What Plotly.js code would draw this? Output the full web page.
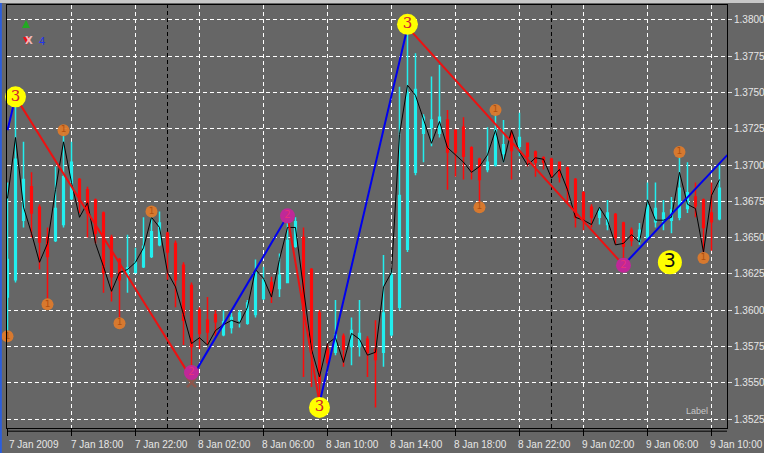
<!DOCTYPE html>
<html>
<head>
<meta charset="utf-8">
<script src="https://cdn.plot.ly/plotly-3.0.1.min.js"></script>
<style>html,body{margin:0;padding:0;background:#666666;}#chart{width:764px;height:453px;}</style>
</head>
<body>
<div id="chart"></div>
<script>
// 30-minute bars, 7 Jan 2009 14:00 -> 9 Jan 2009 10:30 (bar index 0..89)
const barIndex = Array.from({length: 90}, (_, i) => i);
const open  = [1.3609,1.3621,1.3662,1.3685,1.3671,1.3650,1.3648,1.3659,1.3677,1.3690,
               1.3683,1.3676,1.3667,1.3650,1.3635,1.3624,1.3626,1.3630,1.3637,1.3645,
               1.3653,1.3646,1.3631,1.3617,1.3600,1.3593,1.3597,1.3583,1.3588,1.3593,
               1.3591,1.3597,1.3608,1.3619,1.3615,1.3619,1.3644,1.3650,1.3628,1.3598,
               1.3573,1.3571,1.3582,1.3575,1.3575,1.3580,1.3573,1.3571,1.3583,1.3602,
               1.3642,1.3695,1.3722,1.3726,1.3722,1.3731,1.3724,1.3726,1.3712,1.3704,
               1.3697,1.3700,1.3708,1.3722,1.3713,1.3715,1.3709,1.3705,1.3704,1.3702,
               1.3698,1.3690,1.3681,1.3671,1.3664,1.3659,1.3666,1.3660,1.3655,1.3648,
               1.3650,1.3661,1.3661,1.3662,1.3664,1.3670,1.3678,1.3676,1.3667,1.3663];
const high  = [1.3688,1.3747,1.3716,1.3695,1.3673,1.3657,1.3699,1.3724,1.3716,1.3691,
               1.3685,1.3677,1.3668,1.3652,1.3636,1.3652,1.3643,1.3664,1.3668,1.3668,
               1.3654,1.3648,1.3633,1.3619,1.3602,1.3609,1.3600,1.3600,1.3598,1.3600,
               1.3607,1.3635,1.3630,1.3623,1.3639,1.3665,1.3664,1.3657,1.3629,1.3600,
               1.3577,1.3607,1.3584,1.3595,1.3607,1.3582,1.3593,1.3638,1.3628,1.3754,
               1.3795,1.3777,1.3735,1.3761,1.3769,1.3738,1.3724,1.3733,1.3713,1.3705,
               1.3726,1.3738,1.3731,1.3724,1.3736,1.3715,1.3710,1.3706,1.3705,1.3702,
               1.3699,1.3691,1.3682,1.3673,1.3671,1.3676,1.3667,1.3661,1.3657,1.3660,
               1.3688,1.3688,1.3676,1.3678,1.3706,1.3702,1.3688,1.3677,1.3688,1.3700];
const low   = [1.3585,1.3619,1.3657,1.3650,1.3628,1.3602,1.3647,1.3657,1.3676,1.3667,
               1.3650,1.3646,1.3612,1.3606,1.3593,1.3612,1.3626,1.3629,1.3636,1.3644,
               1.3621,1.3602,1.3576,1.3553,1.3573,1.3576,1.3582,1.3582,1.3584,1.3588,
               1.3590,1.3595,1.3607,1.3605,1.3609,1.3619,1.3643,1.3554,1.3547,1.3535,
               1.3561,1.3569,1.3561,1.3562,1.3568,1.3554,1.3533,1.3561,1.3582,1.3600,
               1.3640,1.3693,1.3702,1.3713,1.3719,1.3683,1.3692,1.3690,1.3690,1.3674,
               1.3695,1.3699,1.3702,1.3690,1.3706,1.3699,1.3692,1.3697,1.3692,1.3688,
               1.3674,1.3657,1.3655,1.3657,1.3659,1.3655,1.3645,1.3632,1.3644,1.3645,
               1.3648,1.3657,1.3655,1.3653,1.3662,1.3667,1.3664,1.3638,1.3641,1.3662];
const close = [1.3635,1.3704,1.3690,1.3667,1.3647,1.3637,1.3670,1.3692,1.3702,1.3675,
               1.3667,1.3653,1.3626,1.3623,1.3621,1.3629,1.3633,1.3644,1.3654,1.3660,
               1.3640,1.3621,1.3593,1.3575,1.3584,1.3585,1.3592,1.3592,1.3595,1.3598,
               1.3605,1.3626,1.3621,1.3613,1.3624,1.3648,1.3661,1.3600,1.3571,1.3550,
               1.3564,1.3583,1.3573,1.3586,1.3584,1.3571,1.3566,1.3598,1.3624,1.3679,
               1.3750,1.3752,1.3733,1.3731,1.3733,1.3709,1.3709,1.3706,1.3697,1.3690,
               1.3702,1.3724,1.3714,1.3710,1.3719,1.3706,1.3702,1.3702,1.3692,1.3692,
               1.3683,1.3664,1.3662,1.3664,1.3668,1.3667,1.3650,1.3644,1.3648,1.3655,
               1.3672,1.3670,1.3667,1.3669,1.3684,1.3681,1.3672,1.3657,1.3661,1.3684];
// black indicator line
const lineVals = [1.3677,1.3719,1.3671,1.3653,1.3633,1.3646,1.3683,1.3716,1.3688,1.3664,
                  1.3674,1.3646,1.3630,1.3613,1.3626,1.3628,1.3633,1.3643,1.3664,1.3657,
                  1.3626,1.3616,1.3597,1.3577,1.3581,1.3576,1.3586,1.3590,1.3593,1.3591,
                  1.3602,1.3628,1.3622,1.3609,1.3635,1.3657,1.3657,1.3616,1.3573,1.3554,
                  1.3577,1.3581,1.3564,1.3584,1.3580,1.3569,1.3571,1.3616,1.3626,1.3721,
                  1.3755,1.3748,1.3731,1.3715,1.3730,1.3712,1.3707,1.3702,1.3695,1.3699,
                  1.3707,1.3724,1.3702,1.3724,1.3709,1.3700,1.3705,1.3704,1.3691,1.3697,
                  1.3683,1.3664,1.3662,1.3659,1.3671,1.3662,1.3645,1.3646,1.3652,1.3647,
                  1.3676,1.3662,1.3662,1.3664,1.3695,1.3673,1.3670,1.3640,1.3679,1.3690];
// zigzag pivots
const zzX = [0, 1, 23, 35, 39, 50, 77, 90];
const zzY = [1.3724, 1.3747, 1.3553, 1.3665, 1.3536, 1.3795, 1.3631, 1.3707];
// pivot labels
const lvl3X = [1, 39, 50];
const lvl3Y = [1.3747, 1.3533, 1.3797];
const lvl2X = [23, 35, 77];
const lvl2Y = [1.3557, 1.3665, 1.3631];
const crossX = [23];
const crossY = [1.3550];
const lvl1X = [0, 5, 7, 14, 18, 59, 61, 84, 87];
const lvl1Y = [1.3582, 1.3604, 1.3724, 1.3591, 1.3668, 1.3671, 1.3738, 1.3709, 1.3636];
const bigLabelX = [82.8];
const bigLabelY = [1.3633];
// axis ticks
const xTickVals = [0, 8, 16, 24, 32, 40, 48, 56, 64, 72, 80, 88];
const xTickText = ['7 Jan 2009','7 Jan 18:00','7 Jan 22:00','8 Jan 02:00','8 Jan 06:00','8 Jan 10:00',
                   '8 Jan 14:00','8 Jan 18:00','8 Jan 22:00','9 Jan 02:00','9 Jan 06:00','9 Jan 10:00'];
const daySeparators = [20, 68];

// build zigzag legs
const upX = [], upY = [], dnX = [], dnY = [];
for (let k = 0; k < zzX.length - 1; k++) {
  const up = zzY[k + 1] > zzY[k];
  const tx = up ? upX : dnX, ty = up ? upY : dnY;
  tx.push(zzX[k], zzX[k + 1], null);
  ty.push(zzY[k], zzY[k + 1], null);
}

const txtColor = '#e6e6e6';
const traces = [
  {type: 'candlestick', x: barIndex, open: open, high: high, low: low, close: close,
   increasing: {line: {color: '#22eeee', width: 1.5}, fillcolor: '#22eeee'},
   decreasing: {line: {color: '#ff0a0a', width: 1.5}, fillcolor: '#ff0a0a'},
   whiskerwidth: 0, hoverinfo: 'skip', showlegend: false},
  {type: 'scatter', mode: 'lines', x: barIndex, y: lineVals,
   line: {color: '#000000', width: 1}, hoverinfo: 'skip', showlegend: false},
  {type: 'scatter', mode: 'lines', x: upX, y: upY, connectgaps: false,
   line: {color: '#0000ee', width: 2}, hoverinfo: 'skip', showlegend: false},
  {type: 'scatter', mode: 'lines', x: dnX, y: dnY, connectgaps: false,
   line: {color: '#ee1111', width: 2}, hoverinfo: 'skip', showlegend: false},
  {type: 'scatter', mode: 'markers+text', x: lvl1X, y: lvl1Y, text: lvl1X.map(() => '1'),
   textposition: 'middle center', textfont: {family: 'DejaVu Sans', size: 9, color: '#b05010'},
   marker: {size: 12, color: '#dd7a2c', opacity: 0.95}, hoverinfo: 'skip', showlegend: false, cliponaxis: false},
  {type: 'scatter', mode: 'markers', x: crossX, y: crossY,
   marker: {symbol: 'x-thin-open', size: 9, line: {color: '#ee1111', width: 2.5}},
   hoverinfo: 'skip', showlegend: false, cliponaxis: false},
  {type: 'scatter', mode: 'markers+text', x: lvl2X, y: lvl2Y, text: lvl2X.map(() => '2'),
   textposition: 'middle center', textfont: {family: 'DejaVu Sans', size: 10, color: '#e8307a'},
   marker: {size: 15, color: '#c02898'}, hoverinfo: 'skip', showlegend: false, cliponaxis: false},
  {type: 'scatter', mode: 'markers+text', x: lvl3X, y: lvl3Y, text: lvl3X.map(() => '3'),
   textposition: 'middle center', textfont: {family: 'DejaVu Serif', size: 15, color: '#d02030'},
   marker: {size: 21, color: '#ffff00'}, hoverinfo: 'skip', showlegend: false, cliponaxis: false},
  {type: 'scatter', mode: 'markers+text', x: bigLabelX, y: bigLabelY, text: ['3'],
   textposition: 'middle center', textfont: {family: 'DejaVu Sans', size: 19, color: '#111111'},
   marker: {size: 24, color: '#ffff00'}, hoverinfo: 'skip', showlegend: false, cliponaxis: false}
];

const shapes = daySeparators.map(d => ({type: 'line', xref: 'x', yref: 'paper', x0: d, x1: d, y0: 0, y1: 1,
  line: {color: '#000000', width: 1, dash: '4px,3px'}, layer: 'below'}));
// second bottom frame line, window edges
shapes.push({type: 'line', xref: 'paper', yref: 'paper', x0: 0, x1: 1, y0: -0.0075, y1: -0.0075,
  line: {color: '#000000', width: 1}});
shapes.push({type: 'rect', xref: 'paper', yref: 'paper', x0: -0.0097, x1: 1.06, y0: 1.0047, y1: 1.02,
  line: {width: 0}, fillcolor: '#c8c8c8'});
shapes.push({type: 'rect', xref: 'paper', yref: 'paper', x0: -0.0097, x1: -0.0072, y0: -0.07, y1: 1.005,
  line: {width: 0}, fillcolor: '#2a5ee0'});
// indicator status icon (top-left): green up / red down triangles
shapes.push({type: 'path', xref: 'paper', yref: 'paper',
  path: 'M 0.0208 0.9456 L 0.0319 0.9456 L 0.0264 0.9645 Z', fillcolor: '#22aa22', line: {width: 0}});
shapes.push({type: 'path', xref: 'paper', yref: 'paper',
  path: 'M 0.0222 0.9243 L 0.0333 0.9243 L 0.0278 0.9054 Z', fillcolor: '#ee1111', line: {width: 0}});

const annotations = xTickVals.map((v, k) => ({
  x: v, y: 0, xref: 'x', yref: 'paper', text: xTickText[k], showarrow: false,
  xanchor: 'left', yanchor: 'top', xshift: k === 0 ? -1 : -3, yshift: -9,
  font: {family: 'Liberation Sans', size: 10, color: txtColor}
}));
annotations.push(
  {x: 0.0222, y: 0.9338, xref: 'paper', yref: 'paper', text: '<b>X</b>', showarrow: false,
   font: {family: 'DejaVu Sans', size: 10, color: '#f0b8b8'}},
  {x: 0.0417, y: 0.9338, xref: 'paper', yref: 'paper', text: '4', showarrow: false,
   font: {family: 'Liberation Sans', size: 11, color: '#2233ee'}},
  {x: 0.976, y: 0.0236, xref: 'paper', yref: 'paper', text: 'Label', showarrow: false,
   font: {family: 'Liberation Sans', size: 9, color: '#c8c8c8'}}
);

const layout = {
  width: 764, height: 453,
  margin: {l: 7, r: 37, t: 5, b: 25, pad: 0},
  paper_bgcolor: '#666666', plot_bgcolor: '#666666',
  showlegend: false, boxgap: 0.7,
  xaxis: {range: [-0.0625, 89.94], tickvals: xTickVals, ticktext: xTickText, showticklabels: false,
          showgrid: true, gridcolor: '#ffffff', griddash: '4px,3px', gridwidth: 1, zeroline: false,
          ticks: 'outside', ticklen: 7, tickcolor: '#000000',
          showline: true, linecolor: '#000000', linewidth: 1, mirror: true,
          rangeslider: {visible: false}, fixedrange: true},
  yaxis: {range: [1.35188, 1.38103], side: 'right', tick0: 1.3525, dtick: 0.0025, tickformat: '.4f',
          showgrid: true, gridcolor: '#ffffff', griddash: '4px,3px', gridwidth: 1, zeroline: false,
          ticks: 'outside', ticklen: 4, tickcolor: '#e6e6e6',
          tickfont: {family: 'Liberation Sans', size: 10, color: txtColor},
          showline: true, linecolor: '#000000', linewidth: 1, mirror: true, fixedrange: true},
  shapes: shapes,
  annotations: annotations
};

Plotly.newPlot('chart', traces, layout, {staticPlot: true, displayModeBar: false});
</script>
</body>
</html>
